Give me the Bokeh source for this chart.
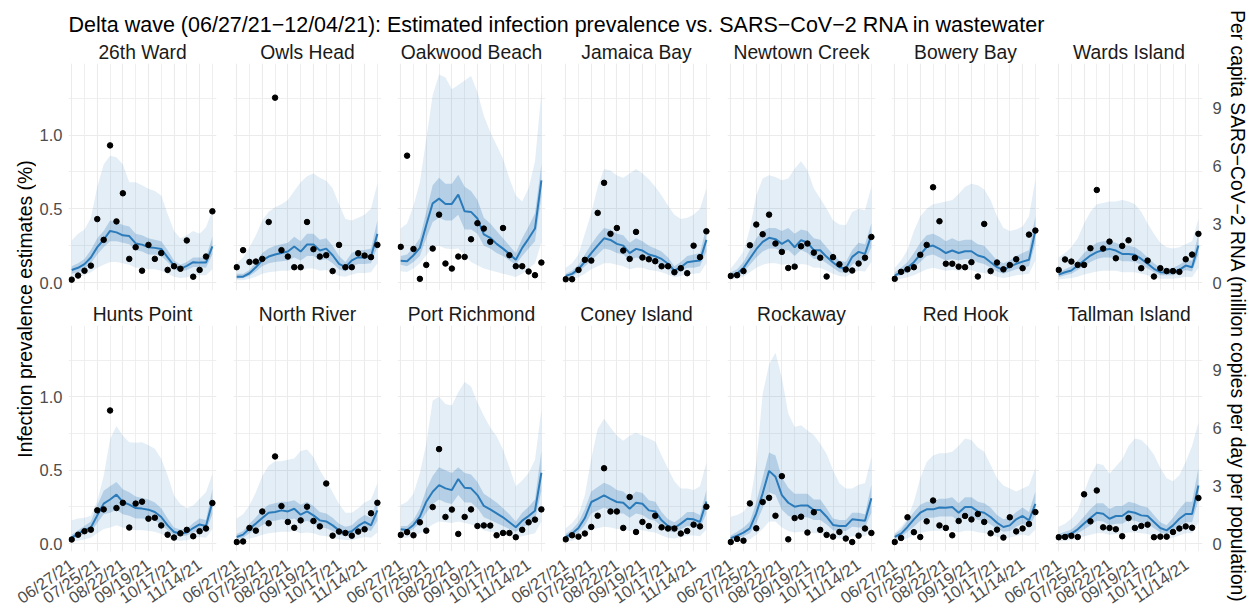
import math
import numpy as np
from bokeh.plotting import figure
from bokeh.models import (Range1d, FixedTicker, LinearAxis, PrintfTickFormatter, Label)
from bokeh.layouts import row, column
from bokeh.embed import file_html
from bokeh.resources import INLINE

TITLE = "Delta wave (06/27/21\u221212/04/21): Estimated infection prevalence vs. SARS\u2212CoV\u22122 RNA in wastewater"
YLAB = "Infection prevalence estimates (%)"
Y2LAB = "Per capita SARS\u2212CoV\u22122 RNA (million copies per day per population)"

WEEKS = ["2021-06-27", "2021-07-04", "2021-07-11", "2021-07-18", "2021-07-25", "2021-08-01",
         "2021-08-08", "2021-08-15", "2021-08-22", "2021-08-29", "2021-09-05", "2021-09-12",
         "2021-09-19", "2021-09-26", "2021-10-03", "2021-10-10", "2021-10-17", "2021-10-24",
         "2021-10-31", "2021-11-07", "2021-11-14", "2021-11-21", "2021-11-28"]
X_MAJOR = ["2021-06-27", "2021-07-25", "2021-08-22", "2021-09-19", "2021-10-17", "2021-11-14"]
X_MAJOR_LABELS = ["06/27/21", "07/25/21", "08/22/21", "09/19/21", "10/17/21", "11/14/21"]
X_MINOR = ["2021-07-11", "2021-08-08", "2021-09-05", "2021-10-03", "2021-10-31", "2021-11-28"]
X_LIMITS = ["2021-06-23T12:00", "2021-12-02T12:00"]
Y_MAJOR = [0.0, 0.5, 1.0]
Y_MINOR = [0.25, 0.75, 1.25]
Y_LIMITS = [-0.054, 1.485]
Y2_TICKS = [0, 3, 6, 9]
Y2_LIMITS = [-0.41, 11.29]

nan = float("nan")

# ---- 26th Ward
WARD26_RNA = [0.15, 0.36, 0.61, 0.87, 3.27, 2.20, 7.07, 3.15, 4.60, 1.22, 1.82, 0.61, 1.94, 1.22, 1.52, 0.65, 0.84, 0.71, 2.17, 0.30, 0.65, 1.34, 3.67]
WARD26_MED = [0.085, 0.10, 0.125, 0.17, 0.24, 0.29, 0.35, 0.34, 0.32, 0.315, 0.265, 0.257, 0.24, 0.235, 0.228, 0.17, 0.115, 0.093, 0.113, 0.138, 0.135, 0.135, 0.245]
WARD26_LO50 = [0.06, 0.07, 0.09, 0.13, 0.19, 0.24, 0.28, 0.28, 0.27, 0.26, 0.22, 0.21, 0.19, 0.19, 0.18, 0.14, 0.09, 0.075, 0.085, 0.105, 0.105, 0.10, 0.19]
WARD26_HI50 = [0.11, 0.13, 0.16, 0.22, 0.30, 0.35, 0.42, 0.41, 0.39, 0.38, 0.33, 0.32, 0.30, 0.29, 0.28, 0.22, 0.15, 0.12, 0.14, 0.17, 0.17, 0.17, 0.31]
WARD26_LO95 = [0.03, 0.04, 0.05, 0.07, 0.10, 0.12, 0.14, 0.14, 0.13, 0.12, 0.10, 0.10, 0.09, 0.09, 0.08, 0.06, 0.04, 0.03, 0.035, 0.05, 0.05, 0.05, 0.09]
WARD26_HI95 = [0.285, 0.33, 0.36, 0.44, 0.65, 0.80, 0.86, 0.85, 0.80, 0.68, 0.68, 0.66, 0.635, 0.62, 0.59, 0.465, 0.35, 0.30, 0.32, 0.35, 0.33, 0.375, 0.49]

# ---- Owls Head
OWLS_RNA = [0.79, 1.67, 1.06, 1.08, 1.22, 3.12, 9.53, 1.67, 1.34, 0.79, 0.79, 3.12, 1.72, 1.34, 1.41, 0.59, 1.94, 0.79, 0.79, 1.51, 1.39, 1.31, 1.94]
OWLS_MED = [0.04, 0.04, 0.063, 0.104, 0.15, 0.176, 0.19, 0.20, 0.21, 0.244, 0.21, 0.258, 0.258, 0.217, 0.23, 0.185, 0.127, 0.104, 0.15, 0.172, 0.17, 0.176, 0.33]
OWLS_LO50 = [0.025, 0.03, 0.045, 0.075, 0.11, 0.13, 0.14, 0.145, 0.15, 0.17, 0.15, 0.18, 0.18, 0.15, 0.16, 0.13, 0.09, 0.075, 0.11, 0.125, 0.125, 0.13, 0.24]
OWLS_HI50 = [0.06, 0.06, 0.085, 0.14, 0.20, 0.23, 0.25, 0.26, 0.27, 0.31, 0.28, 0.33, 0.33, 0.29, 0.30, 0.25, 0.18, 0.14, 0.20, 0.22, 0.22, 0.23, 0.42]
OWLS_LO95 = [0.015, 0.015, 0.025, 0.04, 0.06, 0.07, 0.075, 0.08, 0.08, 0.09, 0.08, 0.095, 0.095, 0.08, 0.085, 0.07, 0.045, 0.04, 0.055, 0.065, 0.065, 0.07, 0.13]
OWLS_HI95 = [0.13, 0.17, 0.24, 0.32, 0.42, 0.48, 0.51, 0.53, 0.56, 0.62, 0.68, 0.72, 0.74, 0.71, 0.69, 0.64, 0.53, 0.43, 0.42, 0.44, 0.46, 0.50, 0.67]

# ---- Oakwood Beach
OAKW_RNA = [1.84, 6.54, 1.73, 0.19, 0.91, 1.75, 3.50, 0.98, 0.72, 1.34, 1.32, 2.23, 3.06, 2.78, 2.10, nan, 2.81, 1.41, 0.84, 0.84, 0.57, 0.38, 1.03]
OAKW_MED = [0.147, 0.145, 0.185, 0.235, 0.39, 0.537, 0.569, 0.533, 0.533, 0.596, 0.483, 0.479, 0.434, 0.327, 0.303, 0.262, 0.23, 0.194, 0.154, 0.235, 0.298, 0.366, 0.693]
OAKW_LO50 = [0.12, 0.11, 0.14, 0.18, 0.30, 0.41, 0.44, 0.42, 0.42, 0.46, 0.36, 0.36, 0.33, 0.25, 0.23, 0.20, 0.18, 0.15, 0.12, 0.18, 0.23, 0.28, 0.58]
OAKW_HI50 = [0.18, 0.19, 0.24, 0.30, 0.48, 0.66, 0.71, 0.67, 0.67, 0.73, 0.65, 0.62, 0.56, 0.44, 0.40, 0.35, 0.30, 0.25, 0.20, 0.30, 0.38, 0.47, 0.80]
OAKW_LO95 = [0.077, 0.072, 0.095, 0.13, 0.185, 0.24, 0.25, 0.23, 0.226, 0.23, 0.185, 0.14, 0.117, 0.095, 0.083, 0.072, 0.06, 0.05, 0.038, 0.06, 0.095, 0.13, 0.275]
OAKW_HI95 = [0.366, 0.40, 0.52, 0.68, 0.975, 1.27, 1.41, 1.39, 1.31, 1.34, 1.37, 1.40, 1.29, 1.13, 1.02, 0.93, 0.84, 0.705, 0.59, 0.55, 0.64, 0.82, 1.29]

# ---- Jamaica Bay
JAMB_RNA = [0.17, 0.17, 0.65, 1.17, 1.13, 3.59, 5.14, 2.51, 2.81, 1.65, 1.22, 2.61, 1.29, 1.20, 1.10, 0.84, 0.84, 0.53, 0.74, 0.48, 1.90, 1.31, 2.64]
JAMB_MED = [0.045, 0.059, 0.09, 0.142, 0.20, 0.25, 0.30, 0.289, 0.262, 0.25, 0.20, 0.228, 0.217, 0.19, 0.178, 0.16, 0.127, 0.081, 0.104, 0.138, 0.145, 0.149, 0.289]
JAMB_LO50 = [0.03, 0.04, 0.07, 0.11, 0.15, 0.19, 0.23, 0.22, 0.20, 0.19, 0.15, 0.17, 0.16, 0.14, 0.13, 0.12, 0.09, 0.06, 0.075, 0.10, 0.10, 0.11, 0.21]
JAMB_HI50 = [0.06, 0.08, 0.12, 0.19, 0.26, 0.32, 0.37, 0.36, 0.33, 0.32, 0.27, 0.30, 0.28, 0.25, 0.23, 0.21, 0.17, 0.11, 0.14, 0.18, 0.19, 0.20, 0.38]
JAMB_LO95 = [0.015, 0.02, 0.035, 0.06, 0.09, 0.11, 0.13, 0.13, 0.12, 0.11, 0.09, 0.10, 0.10, 0.085, 0.08, 0.07, 0.055, 0.035, 0.045, 0.06, 0.06, 0.065, 0.13]
JAMB_HI95 = [0.10, 0.13, 0.19, 0.33, 0.47, 0.65, 0.77, 0.76, 0.725, 0.71, 0.74, 0.77, 0.74, 0.70, 0.65, 0.59, 0.52, 0.46, 0.43, 0.44, 0.46, 0.50, 0.64]

# ---- Newtown Creek
NEWT_RNA = [0.34, 0.38, 0.59, 1.92, 2.99, 2.49, 3.50, 2.01, 1.58, 0.75, 0.82, 1.87, 2.01, 1.54, 1.28, 0.31, 1.31, 0.94, 0.67, 0.62, 0.98, 1.28, 2.35]
NEWT_MED = [0.05, 0.061, 0.099, 0.163, 0.226, 0.276, 0.303, 0.294, 0.262, 0.287, 0.239, 0.287, 0.271, 0.219, 0.219, 0.174, 0.136, 0.104, 0.095, 0.174, 0.208, 0.194, 0.321]
NEWT_LO50 = [0.035, 0.04, 0.07, 0.12, 0.17, 0.21, 0.23, 0.23, 0.21, 0.22, 0.18, 0.22, 0.20, 0.16, 0.16, 0.13, 0.10, 0.07, 0.065, 0.12, 0.15, 0.14, 0.24]
NEWT_HI50 = [0.07, 0.09, 0.14, 0.22, 0.30, 0.35, 0.37, 0.37, 0.35, 0.37, 0.33, 0.36, 0.35, 0.30, 0.29, 0.24, 0.19, 0.15, 0.14, 0.22, 0.27, 0.26, 0.40]
NEWT_LO95 = [0.02, 0.025, 0.04, 0.07, 0.10, 0.12, 0.13, 0.13, 0.12, 0.125, 0.11, 0.125, 0.12, 0.10, 0.10, 0.08, 0.06, 0.045, 0.04, 0.065, 0.08, 0.075, 0.14]
NEWT_HI95 = [0.095, 0.15, 0.21, 0.366, 0.59, 0.705, 0.727, 0.716, 0.693, 0.705, 0.772, 0.822, 0.761, 0.637, 0.569, 0.50, 0.422, 0.393, 0.388, 0.479, 0.50, 0.49, 0.648]

# ---- Bowery Bay
BOWB_RNA = [0.19, 0.55, 0.68, 0.79, 1.43, 1.94, 4.91, 3.16, 0.97, 0.97, 0.82, 0.79, 1.05, 0.31, 3.02, 0.59, 1.03, 0.68, 0.90, 1.20, 0.74, 2.47, 2.68]
BOWB_MED = [0.047, 0.07, 0.10, 0.138, 0.19, 0.24, 0.251, 0.228, 0.20, 0.217, 0.20, 0.212, 0.212, 0.183, 0.172, 0.138, 0.104, 0.086, 0.108, 0.127, 0.142, 0.154, 0.353]
BOWB_LO50 = [0.035, 0.05, 0.07, 0.10, 0.14, 0.18, 0.19, 0.17, 0.15, 0.16, 0.15, 0.16, 0.16, 0.135, 0.125, 0.10, 0.075, 0.06, 0.075, 0.09, 0.10, 0.11, 0.27]
BOWB_HI50 = [0.07, 0.10, 0.14, 0.20, 0.27, 0.32, 0.33, 0.31, 0.28, 0.30, 0.28, 0.29, 0.29, 0.26, 0.25, 0.20, 0.15, 0.13, 0.15, 0.18, 0.20, 0.22, 0.45]
BOWB_LO95 = [0.015, 0.025, 0.035, 0.05, 0.07, 0.09, 0.10, 0.09, 0.08, 0.085, 0.08, 0.085, 0.085, 0.07, 0.065, 0.055, 0.04, 0.03, 0.04, 0.05, 0.055, 0.06, 0.15]
BOWB_HI95 = [0.10, 0.15, 0.22, 0.35, 0.45, 0.50, 0.53, 0.54, 0.55, 0.56, 0.60, 0.65, 0.67, 0.66, 0.63, 0.56, 0.45, 0.37, 0.35, 0.36, 0.38, 0.45, 0.70]

# ---- Wards Island
WARDS_RNA = [0.65, 1.19, 1.08, 0.91, 0.91, 1.77, 4.77, 1.75, 2.11, 1.25, 1.89, 2.18, 1.27, 0.74, 1.13, 0.31, 0.74, 0.59, 0.59, 0.55, 1.20, 1.44, 2.51]
WARDS_MED = [0.054, 0.07, 0.081, 0.115, 0.149, 0.183, 0.206, 0.221, 0.228, 0.217, 0.194, 0.194, 0.188, 0.16, 0.127, 0.093, 0.07, 0.068, 0.07, 0.086, 0.115, 0.104, 0.251]
WARDS_LO50 = [0.035, 0.05, 0.06, 0.085, 0.11, 0.14, 0.16, 0.17, 0.17, 0.165, 0.145, 0.145, 0.14, 0.12, 0.095, 0.07, 0.05, 0.05, 0.05, 0.065, 0.085, 0.075, 0.19]
WARDS_HI50 = [0.07, 0.09, 0.11, 0.15, 0.20, 0.24, 0.27, 0.28, 0.28, 0.27, 0.25, 0.25, 0.24, 0.21, 0.17, 0.13, 0.10, 0.095, 0.10, 0.12, 0.15, 0.15, 0.33]
WARDS_LO95 = [0.02, 0.025, 0.03, 0.04, 0.055, 0.065, 0.075, 0.08, 0.08, 0.08, 0.07, 0.07, 0.07, 0.06, 0.05, 0.035, 0.025, 0.025, 0.025, 0.03, 0.04, 0.035, 0.10]
WARDS_HI95 = [0.17, 0.20, 0.24, 0.30, 0.40, 0.48, 0.53, 0.54, 0.55, 0.55, 0.56, 0.55, 0.53, 0.48, 0.40, 0.33, 0.27, 0.24, 0.23, 0.24, 0.26, 0.28, 0.43]

# ---- Hunts Point
HUNTS_RNA = [0.21, 0.46, 0.64, 0.72, 1.72, 1.77, 6.89, 1.84, 2.11, 0.83, 2.07, 2.17, 1.29, 1.34, 0.94, 0.46, 0.31, 0.53, 0.71, 0.38, 0.64, 0.78, 2.10]
HUNTS_MED = [0.041, 0.068, 0.09, 0.11, 0.192, 0.272, 0.30, 0.333, 0.283, 0.265, 0.242, 0.238, 0.231, 0.215, 0.181, 0.124, 0.079, 0.068, 0.075, 0.106, 0.13, 0.12, 0.283]
HUNTS_LO50 = [0.028, 0.045, 0.065, 0.08, 0.14, 0.20, 0.21, 0.23, 0.20, 0.19, 0.17, 0.17, 0.165, 0.155, 0.13, 0.09, 0.055, 0.05, 0.055, 0.075, 0.095, 0.085, 0.20]
HUNTS_HI50 = [0.06, 0.09, 0.12, 0.15, 0.26, 0.36, 0.39, 0.42, 0.37, 0.35, 0.32, 0.31, 0.30, 0.28, 0.24, 0.17, 0.11, 0.095, 0.10, 0.14, 0.17, 0.16, 0.37]
HUNTS_LO95 = [0.012, 0.02, 0.03, 0.04, 0.07, 0.10, 0.11, 0.124, 0.11, 0.10, 0.09, 0.09, 0.088, 0.08, 0.065, 0.045, 0.025, 0.02, 0.022, 0.035, 0.045, 0.04, 0.10]
HUNTS_HI95 = [0.158, 0.17, 0.176, 0.19, 0.29, 0.46, 0.71, 0.80, 0.735, 0.69, 0.686, 0.69, 0.67, 0.645, 0.577, 0.464, 0.328, 0.27, 0.24, 0.26, 0.305, 0.35, 0.475]

# ---- North River
NRIV_RNA = [0.08, 0.11, 0.81, 0.67, 1.66, 1.05, 4.51, 1.94, 1.12, 0.82, 1.20, 1.91, 1.17, 0.89, 3.11, 0.41, 0.62, 0.55, 0.41, 0.62, 0.74, 1.57, 2.11]
NRIV_MED = [0.045, 0.061, 0.102, 0.136, 0.174, 0.21, 0.215, 0.226, 0.219, 0.237, 0.197, 0.219, 0.192, 0.158, 0.151, 0.124, 0.09, 0.074, 0.084, 0.12, 0.147, 0.124, 0.226]
NRIV_LO50 = [0.03, 0.04, 0.07, 0.095, 0.125, 0.15, 0.155, 0.165, 0.16, 0.17, 0.14, 0.155, 0.135, 0.11, 0.105, 0.085, 0.06, 0.05, 0.055, 0.08, 0.10, 0.085, 0.155]
NRIV_HI50 = [0.065, 0.085, 0.135, 0.18, 0.23, 0.265, 0.275, 0.285, 0.285, 0.295, 0.265, 0.285, 0.255, 0.215, 0.205, 0.175, 0.135, 0.115, 0.125, 0.165, 0.195, 0.175, 0.31]
NRIV_LO95 = [0.015, 0.02, 0.035, 0.045, 0.06, 0.07, 0.075, 0.08, 0.08, 0.085, 0.07, 0.075, 0.07, 0.055, 0.05, 0.04, 0.03, 0.025, 0.025, 0.035, 0.045, 0.04, 0.075]
NRIV_HI95 = [0.17, 0.20, 0.26, 0.35, 0.46, 0.53, 0.56, 0.56, 0.57, 0.58, 0.63, 0.64, 0.59, 0.50, 0.43, 0.35, 0.27, 0.21, 0.21, 0.24, 0.28, 0.30, 0.41]

# ---- Port Richmond
PRICH_RNA = [0.45, 0.59, 0.43, 1.10, 0.67, 1.89, 4.89, 1.38, 1.76, 0.50, 1.38, 1.77, 0.91, 0.94, 0.93, 0.43, 0.55, 0.55, 0.33, 0.71, 1.10, 1.24, 1.77]
PRICH_MED = [0.097, 0.093, 0.127, 0.183, 0.285, 0.353, 0.398, 0.376, 0.364, 0.439, 0.38, 0.376, 0.33, 0.256, 0.233, 0.206, 0.179, 0.145, 0.111, 0.156, 0.188, 0.224, 0.482]
PRICH_LO50 = [0.07, 0.07, 0.10, 0.14, 0.21, 0.27, 0.30, 0.28, 0.27, 0.33, 0.28, 0.28, 0.24, 0.18, 0.16, 0.14, 0.12, 0.10, 0.08, 0.11, 0.13, 0.16, 0.36]
PRICH_HI50 = [0.12, 0.12, 0.16, 0.24, 0.37, 0.46, 0.52, 0.50, 0.48, 0.52, 0.48, 0.47, 0.42, 0.34, 0.31, 0.28, 0.24, 0.20, 0.15, 0.21, 0.25, 0.30, 0.63]
PRICH_LO95 = [0.04, 0.04, 0.055, 0.07, 0.10, 0.13, 0.15, 0.145, 0.14, 0.15, 0.14, 0.13, 0.115, 0.09, 0.08, 0.07, 0.06, 0.05, 0.04, 0.05, 0.06, 0.07, 0.15]
PRICH_HI95 = [0.262, 0.285, 0.34, 0.48, 0.68, 0.975, 1.0, 0.95, 0.94, 1.03, 1.10, 1.07, 0.96, 0.87, 0.79, 0.73, 0.64, 0.52, 0.39, 0.43, 0.48, 0.57, 0.91]

# ---- Coney Island
CONEY_RNA = [0.22, 0.43, 0.36, 0.52, 0.86, 1.44, 3.90, 1.66, 1.66, 0.81, 2.41, 0.60, 1.12, 0.91, 1.44, 0.84, 0.78, 0.78, 0.52, 0.65, 0.98, 0.89, 1.91]
CONEY_MED = [0.045, 0.068, 0.106, 0.174, 0.283, 0.305, 0.328, 0.305, 0.283, 0.278, 0.237, 0.278, 0.271, 0.226, 0.219, 0.158, 0.12, 0.106, 0.136, 0.169, 0.165, 0.147, 0.287]
CONEY_LO50 = [0.03, 0.045, 0.075, 0.125, 0.205, 0.225, 0.245, 0.225, 0.205, 0.205, 0.175, 0.205, 0.195, 0.165, 0.155, 0.115, 0.085, 0.075, 0.095, 0.12, 0.115, 0.105, 0.205]
CONEY_HI50 = [0.065, 0.095, 0.145, 0.235, 0.355, 0.385, 0.415, 0.395, 0.365, 0.355, 0.315, 0.355, 0.345, 0.295, 0.285, 0.215, 0.165, 0.145, 0.175, 0.215, 0.215, 0.195, 0.365]
CONEY_LO95 = [0.012, 0.02, 0.035, 0.06, 0.095, 0.105, 0.115, 0.11, 0.10, 0.095, 0.085, 0.095, 0.09, 0.08, 0.075, 0.055, 0.04, 0.035, 0.045, 0.055, 0.055, 0.05, 0.095]
CONEY_HI95 = [0.105, 0.14, 0.195, 0.33, 0.58, 0.78, 0.85, 0.79, 0.735, 0.70, 0.735, 0.755, 0.735, 0.715, 0.695, 0.60, 0.51, 0.425, 0.375, 0.375, 0.365, 0.39, 0.55]

# ---- Rockaway
ROCK_RNA = [0.08, 0.24, 0.15, 2.08, 0.79, 2.15, 2.37, 1.44, 3.49, 0.22, 1.32, 1.39, 0.57, 1.62, 0.71, 0.45, 0.36, 0.60, 0.26, 0.08, 0.41, 0.78, 0.55]
ROCK_MED = [0.036, 0.054, 0.075, 0.104, 0.206, 0.342, 0.495, 0.455, 0.33, 0.278, 0.251, 0.26, 0.26, 0.229, 0.229, 0.183, 0.127, 0.12, 0.12, 0.165, 0.161, 0.156, 0.308]
ROCK_LO50 = [0.022, 0.033, 0.05, 0.07, 0.14, 0.24, 0.35, 0.33, 0.23, 0.19, 0.17, 0.18, 0.18, 0.16, 0.16, 0.13, 0.09, 0.085, 0.085, 0.115, 0.11, 0.11, 0.21]
ROCK_HI50 = [0.055, 0.08, 0.11, 0.15, 0.28, 0.45, 0.62, 0.60, 0.45, 0.38, 0.34, 0.34, 0.34, 0.30, 0.30, 0.24, 0.17, 0.16, 0.16, 0.21, 0.21, 0.20, 0.40]
ROCK_LO95 = [0.008, 0.012, 0.02, 0.03, 0.06, 0.10, 0.15, 0.15, 0.11, 0.085, 0.075, 0.08, 0.08, 0.07, 0.07, 0.055, 0.04, 0.035, 0.035, 0.05, 0.05, 0.05, 0.10]
ROCK_HI95 = [0.183, 0.195, 0.217, 0.274, 0.545, 1.02, 1.22, 1.30, 1.13, 0.885, 0.794, 0.805, 0.77, 0.74, 0.68, 0.61, 0.50, 0.41, 0.375, 0.375, 0.40, 0.41, 0.59]

# ---- Red Hook
REDH_RNA = [0.08, 0.29, 1.36, 0.59, 0.34, 1.15, 2.23, 0.94, 0.81, 0.43, 1.17, 1.43, 1.25, 1.53, 1.12, 0.53, 0.72, 0.31, 1.36, 0.63, 0.78, 1.01, 1.63]
REDH_MED = [0.045, 0.068, 0.113, 0.165, 0.21, 0.233, 0.233, 0.246, 0.244, 0.249, 0.21, 0.249, 0.249, 0.219, 0.21, 0.181, 0.142, 0.113, 0.124, 0.165, 0.188, 0.158, 0.271]
REDH_LO50 = [0.03, 0.045, 0.08, 0.115, 0.155, 0.175, 0.175, 0.185, 0.185, 0.185, 0.155, 0.185, 0.185, 0.16, 0.155, 0.13, 0.10, 0.08, 0.085, 0.115, 0.135, 0.11, 0.195]
REDH_HI50 = [0.065, 0.095, 0.155, 0.215, 0.265, 0.285, 0.285, 0.305, 0.305, 0.315, 0.275, 0.315, 0.315, 0.285, 0.275, 0.245, 0.195, 0.165, 0.175, 0.215, 0.245, 0.215, 0.355]
REDH_LO95 = [0.012, 0.022, 0.037, 0.057, 0.072, 0.082, 0.087, 0.087, 0.087, 0.087, 0.077, 0.087, 0.087, 0.077, 0.072, 0.062, 0.047, 0.037, 0.042, 0.052, 0.062, 0.052, 0.095]
REDH_HI95 = [0.07, 0.115, 0.17, 0.285, 0.445, 0.555, 0.60, 0.615, 0.615, 0.625, 0.665, 0.715, 0.705, 0.655, 0.625, 0.535, 0.445, 0.395, 0.375, 0.355, 0.375, 0.395, 0.515]

# ---- Tallman Island
TALL_RNA = [0.33, 0.34, 0.40, 0.34, 2.55, 1.15, 2.75, 0.84, 0.81, 0.74, 0.38, 1.32, 0.81, 0.91, 0.98, 0.33, 0.36, 0.36, 0.60, 0.78, 0.89, 0.82, 2.36]
TALL_MED = [0.045, 0.056, 0.068, 0.097, 0.136, 0.174, 0.21, 0.203, 0.169, 0.188, 0.188, 0.219, 0.21, 0.192, 0.188, 0.147, 0.106, 0.09, 0.124, 0.169, 0.201, 0.201, 0.396]
TALL_LO50 = [0.03, 0.04, 0.05, 0.07, 0.095, 0.125, 0.155, 0.15, 0.125, 0.135, 0.135, 0.16, 0.155, 0.14, 0.135, 0.105, 0.075, 0.065, 0.085, 0.12, 0.145, 0.145, 0.295]
TALL_HI50 = [0.065, 0.08, 0.095, 0.135, 0.185, 0.235, 0.275, 0.275, 0.235, 0.255, 0.255, 0.285, 0.275, 0.255, 0.245, 0.195, 0.145, 0.125, 0.175, 0.235, 0.285, 0.285, 0.515]
TALL_LO95 = [0.015, 0.02, 0.025, 0.035, 0.05, 0.06, 0.07, 0.07, 0.06, 0.065, 0.065, 0.075, 0.075, 0.07, 0.065, 0.05, 0.035, 0.03, 0.04, 0.055, 0.07, 0.07, 0.145]
TALL_HI95 = [0.115, 0.135, 0.17, 0.225, 0.35, 0.465, 0.545, 0.535, 0.475, 0.525, 0.575, 0.665, 0.715, 0.705, 0.665, 0.605, 0.515, 0.445, 0.425, 0.465, 0.555, 0.665, 0.825]

SITES = [
    ("26th Ward", WARD26_RNA, WARD26_MED, WARD26_LO50, WARD26_HI50, WARD26_LO95, WARD26_HI95),
    ("Owls Head", OWLS_RNA, OWLS_MED, OWLS_LO50, OWLS_HI50, OWLS_LO95, OWLS_HI95),
    ("Oakwood Beach", OAKW_RNA, OAKW_MED, OAKW_LO50, OAKW_HI50, OAKW_LO95, OAKW_HI95),
    ("Jamaica Bay", JAMB_RNA, JAMB_MED, JAMB_LO50, JAMB_HI50, JAMB_LO95, JAMB_HI95),
    ("Newtown Creek", NEWT_RNA, NEWT_MED, NEWT_LO50, NEWT_HI50, NEWT_LO95, NEWT_HI95),
    ("Bowery Bay", BOWB_RNA, BOWB_MED, BOWB_LO50, BOWB_HI50, BOWB_LO95, BOWB_HI95),
    ("Wards Island", WARDS_RNA, WARDS_MED, WARDS_LO50, WARDS_HI50, WARDS_LO95, WARDS_HI95),
    ("Hunts Point", HUNTS_RNA, HUNTS_MED, HUNTS_LO50, HUNTS_HI50, HUNTS_LO95, HUNTS_HI95),
    ("North River", NRIV_RNA, NRIV_MED, NRIV_LO50, NRIV_HI50, NRIV_LO95, NRIV_HI95),
    ("Port Richmond", PRICH_RNA, PRICH_MED, PRICH_LO50, PRICH_HI50, PRICH_LO95, PRICH_HI95),
    ("Coney Island", CONEY_RNA, CONEY_MED, CONEY_LO50, CONEY_HI50, CONEY_LO95, CONEY_HI95),
    ("Rockaway", ROCK_RNA, ROCK_MED, ROCK_LO50, ROCK_HI50, ROCK_LO95, ROCK_HI95),
    ("Red Hook", REDH_RNA, REDH_MED, REDH_LO50, REDH_HI50, REDH_LO95, REDH_HI95),
    ("Tallman Island", TALL_RNA, TALL_MED, TALL_LO50, TALL_HI50, TALL_LO95, TALL_HI95),
]

# ---------------- styling / layout ----------------
FONT = "Liberation Sans"
BAND = "#2171b5"
LINE = "#2b7bba"
GRID = "#ebebeb"

FRAME_W = 148
COL_W = [188, 165, 164, 165, 165, 164, 177]
COL_L = [32, 9, 8, 9, 9, 8, 8]
COL_R = [8, 8, 8, 8, 8, 8, 21]
TITLE_H, TOP_H, BOT_H, LAB_H = 38, 260, 256, 52
LEFT_W, RIGHT_W = 36, 23
LAB_ANCHOR = 8   # px below the strip's top edge where the slanted labels hang


def to_ms(d):
    return float(np.datetime64(d, "ms").astype("int64"))


X = np.array(WEEKS, dtype="datetime64[ms]")
XS, XE = to_ms(X_LIMITS[0]), to_ms(X_LIMITS[1])
XMAJ = [to_ms(d) for d in X_MAJOR]
XMIN = [to_ms(d) for d in X_MINOR]


def blank(w, h, left=0, right=0):
    f = figure(width=w, height=h, x_range=Range1d(0, 1), y_range=Range1d(0, 1),
               output_backend="svg", toolbar_location=None,
               x_axis_location=None, y_axis_location=None,
               min_border_left=left, min_border_right=right,
               min_border_top=0, min_border_bottom=0)
    f.grid.visible = False
    f.outline_line_color = None
    f.background_fill_color = "white"
    f.border_fill_color = "white"
    return f


def style_axis(ax):
    ax.axis_line_color = None
    ax.major_tick_line_color = None
    ax.minor_tick_line_color = None
    ax.major_tick_out = 0
    ax.major_tick_in = 0
    ax.minor_tick_out = 0
    ax.minor_tick_in = 0
    ax.major_label_text_font = FONT
    ax.major_label_text_font_size = "16.5px"
    ax.major_label_text_color = "#4d4d4d"


def make_panel(idx, name, rna, med, lo50, hi50, lo95, hi95):
    r, c = divmod(idx, 7)
    bottom = (r == 1)
    p = figure(width=COL_W[c], height=BOT_H if bottom else TOP_H,
               x_axis_type="datetime",
               x_range=Range1d(XS, XE),
               y_range=Range1d(Y_LIMITS[0], Y_LIMITS[1]),
               output_backend="svg", toolbar_location=None,
               x_axis_location=None,
               y_axis_location="left" if c == 0 else None,
               min_border_left=COL_L[c], min_border_right=COL_R[c],
               min_border_top=27 if bottom else 25,
               min_border_bottom=3 if bottom else 8,
               title=name)
    p.extra_y_ranges = {"rna": Range1d(Y2_LIMITS[0], Y2_LIMITS[1])}
    p.outline_line_color = None
    p.background_fill_color = "white"
    p.border_fill_color = "white"

    p.title.align = "center"
    p.title.text_font = FONT
    p.title.text_font_size = "19.3px"
    p.title.text_font_style = "normal"
    p.title.text_color = "#1a1a1a"
    p.title.standoff = 2

    xt = FixedTicker(ticks=XMAJ, minor_ticks=XMIN)
    yt = FixedTicker(ticks=Y_MAJOR, minor_ticks=Y_MINOR)
    for g in p.xgrid:
        g.ticker = xt
    for g in p.ygrid:
        g.ticker = yt
    for g in list(p.xgrid) + list(p.ygrid):
        g.grid_line_color = GRID
        g.grid_line_width = 1.1
        g.minor_grid_line_color = GRID
        g.minor_grid_line_width = 0.8

    if c == 0:
        ay = p.yaxis[0]
        ay.ticker = yt
        ay.formatter = PrintfTickFormatter(format="%.1f")
        style_axis(ay)
        ay.major_label_standoff = 6
    if c == 6:
        a2 = LinearAxis(y_range_name="rna", ticker=FixedTicker(ticks=Y2_TICKS))
        style_axis(a2)
        a2.major_label_standoff = 10
        p.add_layout(a2, "right")

    p.varea(x=X, y1=lo95, y2=hi95, fill_color=BAND, fill_alpha=0.12)
    p.varea(x=X, y1=lo50, y2=hi50, fill_color=BAND, fill_alpha=0.24)
    p.line(x=X, y=med, line_color=LINE, line_width=2)
    p.scatter(x=X, y=rna, y_range_name="rna", size=5.5,
              fill_color="black", line_color="black")
    return p


panels = [make_panel(i, *s) for i, s in enumerate(SITES)]

# ---- shared date-axis strip under the bottom row (one canvas, so the
#      slanted labels may overhang neighbouring panels as in the original)
ms_per_px = (XE - XS) / FRAME_W
frame_left = [sum(COL_W[:k]) + COL_L[k] for k in range(7)]
panel_off = [fl - frame_left[0] for fl in frame_left]
tick_pos, tick_txt = [], {}
for off in panel_off:
    for d, lab in zip(X_MAJOR, X_MAJOR_LABELS):
        v = float(round(to_ms(d) + off * ms_per_px))
        tick_pos.append(v)
        tick_txt[v] = lab

lab_w = LEFT_W + sum(COL_W)
lab_lead = LEFT_W + COL_L[0]          # strip pixels left of the first panel frame
lab_fig = figure(width=lab_w, height=LAB_H,
                 x_range=Range1d(XS - lab_lead * ms_per_px, XS + (lab_w - lab_lead) * ms_per_px),
                 y_range=Range1d(0, LAB_H),
                 output_backend="svg", toolbar_location=None,
                 x_axis_location=None, y_axis_location=None,
                 min_border_left=0, min_border_right=0,
                 min_border_top=0, min_border_bottom=0)
lab_fig.grid.visible = False
lab_fig.outline_line_color = None
lab_fig.background_fill_color = "white"
lab_fig.border_fill_color = "white"
xa = LinearAxis(ticker=FixedTicker(ticks=tick_pos), fixed_location=LAB_H - LAB_ANCHOR)
xa.major_label_overrides = tick_txt
style_axis(xa)
xa.major_label_orientation = math.radians(35)
xa.major_label_standoff = 0
lab_fig.add_layout(xa, "below")

title_fig = blank(sum(COL_W), TITLE_H, left=COL_L[0], right=COL_R[6])
title_fig.add_layout(Label(x=0, y=13.75, x_units="screen", y_units="screen", text=TITLE,
                           text_font=FONT, text_font_size="21.5px", text_color="#000000",
                           text_baseline="middle", text_align="left"))

upper_h = TITLE_H + TOP_H + BOT_H
ylab_fig = blank(LEFT_W, upper_h)
ylab_fig.add_layout(Label(x=24, y=upper_h - 308.5, x_units="screen", y_units="screen", text=YLAB,
                          angle=math.pi / 2, text_font=FONT, text_font_size="19.4px",
                          text_color="#000000", text_align="center", text_baseline="middle"))

full_h = upper_h + LAB_H
y2lab_fig = blank(RIGHT_W, full_h)
y2lab_fig.add_layout(Label(x=13, y=full_h - 306, x_units="screen", y_units="screen", text=Y2LAB,
                           angle=-math.pi / 2, text_font=FONT, text_font_size="19.3px",
                           text_color="#000000", text_align="center", text_baseline="middle"))

middle = column(title_fig, row(*panels[:7]), row(*panels[7:]))
left_block = column(row(ylab_fig, middle), lab_fig)
page = row(left_block, y2lab_fig)

with open("out.html", "w", encoding="utf-8") as fh:
    fh.write(file_html(page, INLINE))
